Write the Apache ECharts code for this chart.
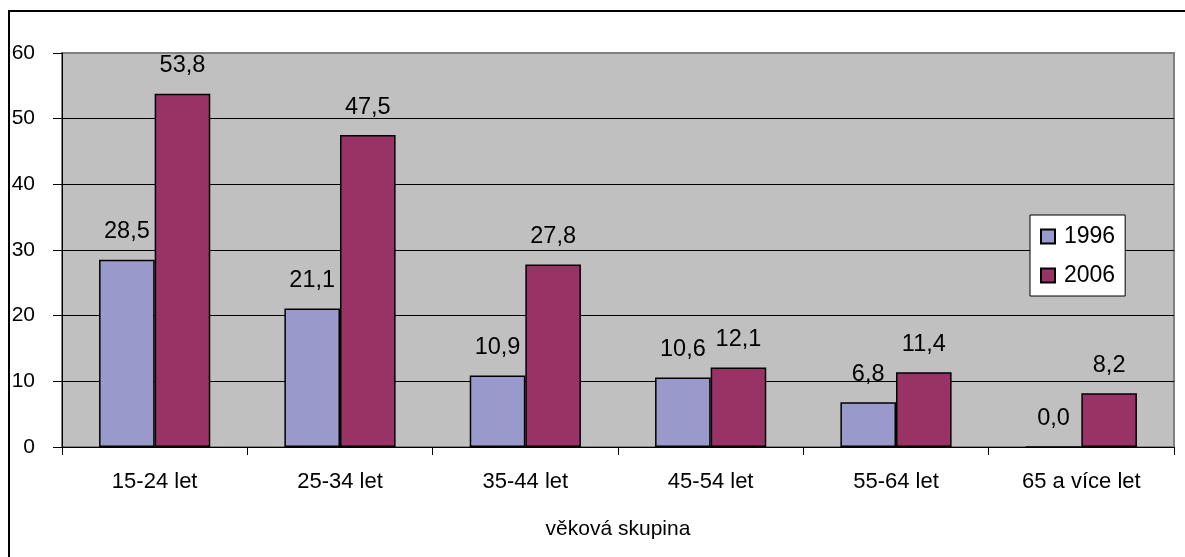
<!DOCTYPE html>
<html>
<head>
<meta charset="utf-8">
<script src="https://cdn.jsdelivr.net/npm/echarts@6/dist/echarts.min.js"></script>
<style>
  html, body { margin: 0; padding: 0; background: #fff; }
  #chart { width: 1185px; height: 557px; }
</style>
</head>
<body>
<div id="chart"></div>
<script>
// Age groups and shares for the two survey years
const categories = ['15-24 let', '25-34 let', '35-44 let', '45-54 let', '55-64 let', '65 a více let'];
const values1996 = [28.5, 21.1, 10.9, 10.6, 6.8, 0.0];
const values2006 = [53.8, 47.5, 27.8, 12.1, 11.4, 8.2];
const yTicks = [0, 10, 20, 30, 40, 50, 60];

const FONT = '"Liberation Sans", Arial, sans-serif';
const fmt = p => p.value.toFixed(1).replace('.', ',');

const chart = echarts.init(document.getElementById('chart'), null, { renderer: 'canvas' });

const barLabel = {
  show: true,
  position: 'top',
  distance: 16,
  formatter: fmt,
  color: '#000',
  fontFamily: FONT,
  fontSize: 23.5
};

chart.setOption({
  animation: false,
  backgroundColor: '#fff',
  graphic: [{
    type: 'rect',
    z: -10,
    shape: { x: 9, y: 11, width: 1250, height: 620 },
    style: { fill: 'none', stroke: '#000', lineWidth: 2 }
  }],
  grid: {
    left: 62, right: 11, top: 53, bottom: 110,
    show: true,
    backgroundColor: '#C0C0C0',
    borderColor: '#808080',
    borderWidth: 2
  },
  legend: {
    orient: 'vertical',
    left: 1030,
    top: 215,
    padding: [10, 10, 9, 10],
    itemGap: 16,
    itemWidth: 14,
    itemHeight: 14,
    backgroundColor: '#fff',
    borderColor: '#000',
    borderWidth: 1,
    icon: 'rect',
    textStyle: { color: '#000', fontFamily: FONT, fontSize: 23, lineHeight: 23, padding: [0, 0, 0, 4] },
    data: ['1996', '2006']
  },
  xAxis: {
    type: 'category',
    data: categories,
    name: 'věková skupina',
    nameLocation: 'middle',
    nameGap: 72,
    nameTextStyle: { color: '#000', fontFamily: FONT, fontSize: 21 },
    axisLine: { show: true, lineStyle: { color: '#000', width: 1 } },
    axisTick: { show: true, length: 8, interval: 0, lineStyle: { color: '#000' } },
    axisLabel: { color: '#000', fontFamily: FONT, fontSize: 22, margin: 24, interval: 0 }
  },
  yAxis: {
    type: 'value',
    min: yTicks[0],
    max: yTicks[yTicks.length - 1],
    interval: 10,
    axisLine: { show: true, lineStyle: { color: '#000', width: 1 } },
    axisTick: { show: true, length: 9, lineStyle: { color: '#000' } },
    axisLabel: { color: '#000', fontFamily: FONT, fontSize: 21, margin: 27 },
    splitLine: { show: true, showMaxLine: false, lineStyle: { color: '#000', width: 1 } }
  },
  series: [
    {
      name: '1996',
      type: 'bar',
      data: values1996,
      barGap: '0%',
      barCategoryGap: '40%',
      itemStyle: { color: '#9999CC', borderColor: '#000', borderWidth: 1.5 },
      label: barLabel
    },
    {
      name: '2006',
      type: 'bar',
      data: values2006,
      itemStyle: { color: '#993366', borderColor: '#000', borderWidth: 1.5 },
      label: barLabel
    }
  ]
});
</script>
</body>
</html>
